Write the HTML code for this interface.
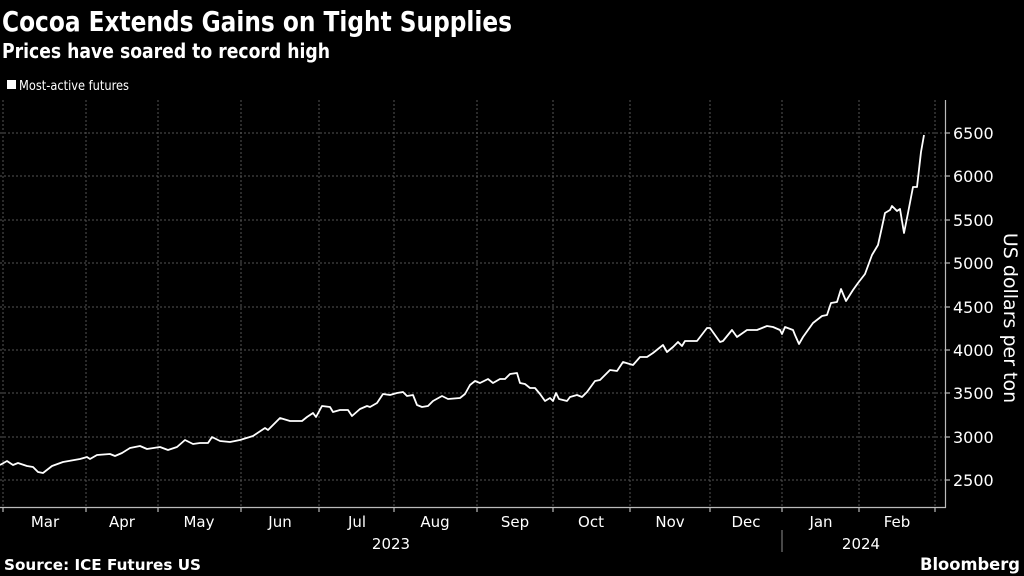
<!DOCTYPE html>
<html><head><meta charset="utf-8"><style>
html,body{margin:0;padding:0;background:#000;}
svg{display:block;}
</style></head><body>
<svg width="1024" height="576" viewBox="0 0 1024 576" xmlns="http://www.w3.org/2000/svg" font-family="'DejaVu Sans','Liberation Sans',sans-serif">
<rect width="1024" height="576" fill="#000"/>
<text x="2" y="31" fill="#fff" font-size="28" font-weight="bold" textLength="510" lengthAdjust="spacingAndGlyphs">Cocoa Extends Gains on Tight Supplies</text>
<text x="2" y="58" fill="#fff" font-size="20" font-weight="bold" textLength="328" lengthAdjust="spacingAndGlyphs">Prices have soared to record high</text>
<rect x="7" y="80" width="9" height="9" fill="#fff"/>
<text x="19" y="90" fill="#fff" font-size="13" textLength="110" lengthAdjust="spacingAndGlyphs">Most-active futures</text>
<g stroke="#555" stroke-width="1" stroke-dasharray="2,2">
<line x1="0" x2="945" y1="133" y2="133"/><line x1="0" x2="945" y1="176" y2="176"/>
<line x1="0" x2="945" y1="220" y2="220"/><line x1="0" x2="945" y1="263" y2="263"/>
<line x1="0" x2="945" y1="307" y2="307"/><line x1="0" x2="945" y1="350" y2="350"/>
<line x1="0" x2="945" y1="393" y2="393"/><line x1="0" x2="945" y1="437" y2="437"/>
<line x1="0" x2="945" y1="480" y2="480"/>
<g>
<line x1="3" x2="3" y1="100" y2="507"/><line x1="86" x2="86" y1="100" y2="507"/>
<line x1="158" x2="158" y1="100" y2="507"/><line x1="241" x2="241" y1="100" y2="507"/>
<line x1="319" x2="319" y1="100" y2="507"/><line x1="394" x2="394" y1="100" y2="507"/>
<line x1="477" x2="477" y1="100" y2="507"/><line x1="553" x2="553" y1="100" y2="507"/>
<line x1="630" x2="630" y1="100" y2="507"/><line x1="710" x2="710" y1="100" y2="507"/>
<line x1="782" x2="782" y1="100" y2="507"/><line x1="859" x2="859" y1="100" y2="507"/>
<line x1="935" x2="935" y1="100" y2="507"/>
</g></g>
<g stroke="#bbb" stroke-width="1.2">
<line x1="0" x2="946" y1="507.5" y2="507.5"/>
<line x1="945.5" x2="945.5" y1="100" y2="508"/>
<line x1="3" x2="3" y1="507" y2="512"/><line x1="86" x2="86" y1="507" y2="512"/>
<line x1="158" x2="158" y1="507" y2="512"/><line x1="241" x2="241" y1="507" y2="512"/>
<line x1="319" x2="319" y1="507" y2="512"/><line x1="394" x2="394" y1="507" y2="512"/>
<line x1="477" x2="477" y1="507" y2="512"/><line x1="553" x2="553" y1="507" y2="512"/>
<line x1="630" x2="630" y1="507" y2="512"/><line x1="710" x2="710" y1="507" y2="512"/>
<line x1="782" x2="782" y1="507" y2="512"/><line x1="859" x2="859" y1="507" y2="512"/>
<line x1="935" x2="935" y1="507" y2="512"/>
<line x1="945" x2="950" y1="133" y2="133"/><line x1="945" x2="950" y1="176" y2="176"/>
<line x1="945" x2="950" y1="220" y2="220"/><line x1="945" x2="950" y1="263" y2="263"/>
<line x1="945" x2="950" y1="307" y2="307"/><line x1="945" x2="950" y1="350" y2="350"/>
<line x1="945" x2="950" y1="393" y2="393"/><line x1="945" x2="950" y1="437" y2="437"/>
<line x1="945" x2="950" y1="480" y2="480"/>
<line x1="782" x2="782" y1="530" y2="552" stroke="#777"/>
</g>
<g fill="#fff" font-size="16">
<text x="953" y="139">6500</text><text x="953" y="182">6000</text>
<text x="953" y="226">5500</text><text x="953" y="269">5000</text>
<text x="953" y="313">4500</text><text x="953" y="356">4000</text>
<text x="953" y="399">3500</text><text x="953" y="443">3000</text>
<text x="953" y="486">2500</text>
</g>
<text transform="translate(1004,318) rotate(90)" fill="#fff" font-size="19" text-anchor="middle">US dollars per ton</text>
<g fill="#fff" font-size="15" text-anchor="middle">
<text x="45" y="527">Mar</text><text x="122" y="527">Apr</text><text x="199" y="527">May</text>
<text x="280" y="527">Jun</text><text x="357" y="527">Jul</text><text x="435" y="527">Aug</text>
<text x="515" y="527">Sep</text><text x="591" y="527">Oct</text><text x="670" y="527">Nov</text>
<text x="746" y="527">Dec</text><text x="821" y="527">Jan</text><text x="897" y="527">Feb</text>
<text x="391" y="549">2023</text><text x="861" y="549">2024</text>
</g>
<polyline fill="none" stroke="#fff" stroke-width="1.8" stroke-linejoin="round" points="0,465 7,461 13,465 18,463 27,466 33,467 38,472 43,473 52,466 63,462 80,459 87,457 90,459 97,455 110,454 115,456 122,453 130,448 140,446 147,449 160,447 168,450 177,447 185,440 193,444 200,443 208,443 212,437 220,441 230,442 240,440 253,436 265,428 268,430 280,418 290,421 302,421 307,417 313,413 316,417 322,406 330,407 333,412 340,410 348,410 352,416 360,409 367,406 370,407 377,403 383,394 390,395 397,393 403,392 407,396 413,395 417,405 422,407 428,406 433,401 442,396 448,399 460,398 465,394 470,385 475,381 480,383 488,379 493,383 500,379 505,379 510,374 517,373 520,383 525,384 530,388 535,388 540,394 545,401 550,398 553,401 556,393 559,399 567,401 570,397 577,395 582,397 587,392 595,381 600,380 610,370 617,371 623,362 633,365 640,357 647,357 653,353 663,345 667,352 673,347 678,342 682,346 685,341 697,341 707,328 710,328 720,342 723,341 732,330 737,337 747,330 757,330 767,326 773,327 780,330 782,334 785,327 793,330 795,335 799,344 803,337 813,323 822,316 827,315 831,303 837,302 841,289 846,301 853,290 858,283 865,274 872,255 878,245 882,227 885,213 890,210 892,206 897,211 900,209 904,233 908,213 913,187 917,187 921,152 924,135"/>
<text x="4" y="570" fill="#fff" font-size="15" font-weight="bold" textLength="197" lengthAdjust="spacingAndGlyphs">Source: ICE Futures US</text>
<text x="1020" y="570" fill="#fff" font-size="17" font-weight="bold" text-anchor="end" textLength="100" lengthAdjust="spacingAndGlyphs">Bloomberg</text>
</svg>
</body></html>
